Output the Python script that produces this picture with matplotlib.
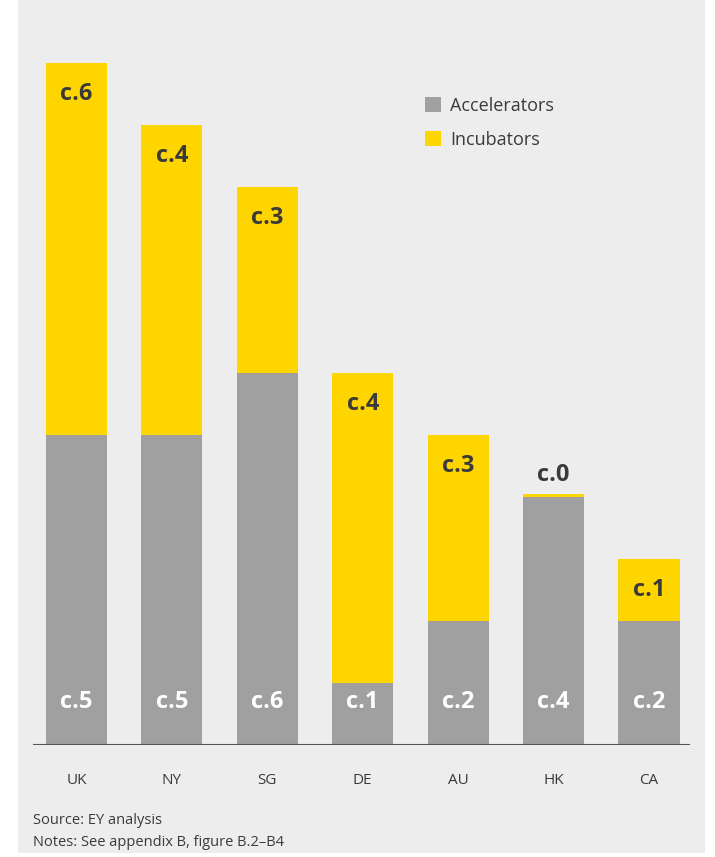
import matplotlib.pyplot as plt

# Data (bar heights in chart units, labels as printed)
markets = ['UK', 'NY', 'SG', 'DE', 'AU', 'HK', 'CA']
accelerators = [0.5, 0.5, 0.6, 0.1, 0.2, 0.4, 0.2]
incubators = [0.6, 0.5, 0.3, 0.5, 0.3, 0.005, 0.1]
acc_labels = ['c.5', 'c.5', 'c.6', 'c.1', 'c.2', 'c.4', 'c.2']
inc_labels = ['c.6', 'c.4', 'c.3', 'c.4', 'c.3', 'c.0', 'c.1']

grey = '#a0a0a0'
yellow = '#ffd500'
panel = '#ededed'
dark = '#3a3a3a'

plt.rcParams['font.family'] = ['Open Sans', 'DejaVu Sans']

W, H = 715, 857
fig = plt.figure(figsize=(W / 100, H / 100), dpi=100)
fig.patch.set_facecolor('white')
# grey panel behind everything
fig.patches.append(plt.Rectangle((18 / W, 4 / H), (705 - 18) / W, (H - 4) / H,
                                 transform=fig.transFigure, facecolor=panel,
                                 edgecolor='none', zorder=-10))

ax = fig.add_axes([33 / W, (H - 745) / H, (690 - 33) / W, (745 - 30) / H])
ax.set_zorder(5)
ax.set_facecolor('none')
x = list(range(len(markets)))
ax.bar(x, accelerators, width=0.64, color=grey, label='Accelerators', zorder=2)
ax.bar(x, incubators, width=0.64, bottom=accelerators, color=yellow,
       label='Incubators', zorder=2)
ax.axhline(0, color='#555555', lw=1.5, zorder=3)

for i in x:
    ax.text(i, 0.07, acc_labels[i], ha='center', va='center', color='white',
            fontsize=17, fontweight='bold', zorder=4)
    top = accelerators[i] + incubators[i]
    if incubators[i] < 0.05:
        ax.text(i, top + 0.03, inc_labels[i], ha='center', va='center',
                color=dark, fontsize=17, fontweight='bold', zorder=4)
    else:
        ax.text(i, top - 0.05, inc_labels[i], ha='center', va='center',
                color=dark, fontsize=17, fontweight='bold', zorder=4)

ax.set_xlim(-0.456, 6.43)
ax.set_ylim(0, 1.153)
ax.set_xticks(x)
ax.set_xticklabels(markets, fontsize=11, color=dark)
ax.tick_params(axis='x', length=0, pad=20)
ax.set_yticks([])
for s in ax.spines.values():
    s.set_visible(False)

leg = ax.legend(loc='upper left', bbox_to_anchor=((418 - 33) / (690 - 33), (745 - 90) / (745 - 30)),
                frameon=False, fontsize=13, handlelength=0.9, handleheight=0.9,
                handletextpad=0.5, labelspacing=0.85, borderaxespad=0)
for t in leg.get_texts():
    t.set_color(dark)

fig.text(33 / W, 1 - 820 / H, 'Source: EY analysis', fontsize=10.5, color=dark, va='center')
fig.text(33 / W, 1 - 843 / H, 'Notes: See appendix B, figure B.2\u2013B4', fontsize=10.5,
         color=dark, va='center')

fig.savefig('out.png', dpi=100)
